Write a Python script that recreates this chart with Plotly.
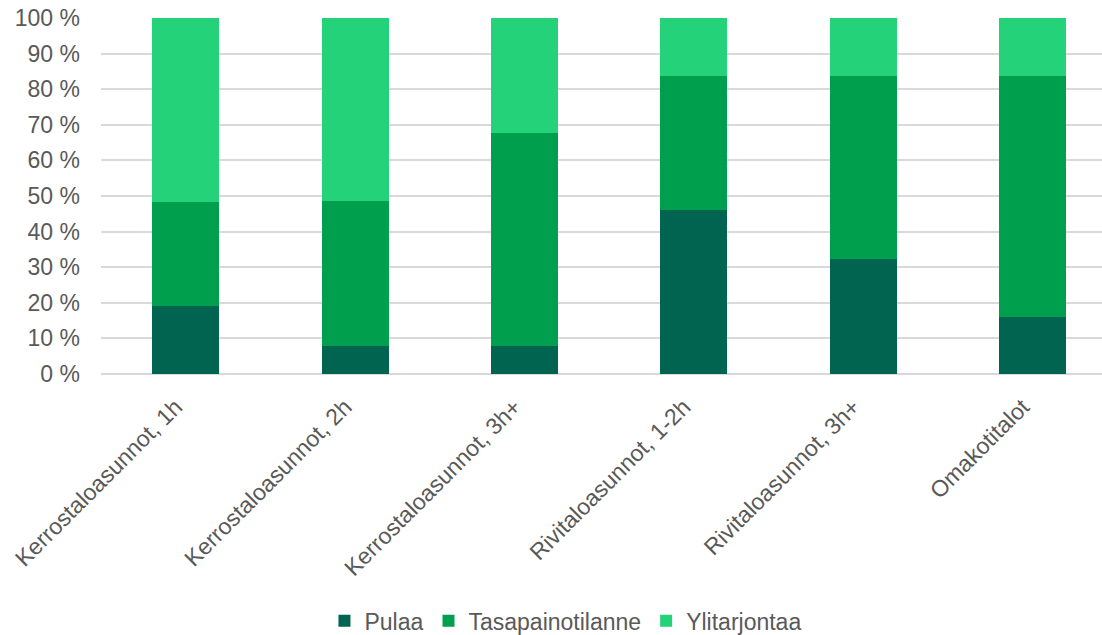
import plotly.graph_objects as go

categories = ["Kerrostaloasunnot, 1h", "Kerrostaloasunnot, 2h", "Kerrostaloasunnot, 3h+",
              "Rivitaloasunnot, 1-2h", "Rivitaloasunnot, 3h+", "Omakotitalot"]
pulaa = [19.0, 8.0, 8.0, 46.0, 32.2, 16.0]
tasapaino = [29.4, 40.5, 59.6, 37.7, 51.5, 67.7]
ylitarjonta = [51.6, 51.5, 32.4, 16.3, 16.3, 16.3]
y_ticks = [0, 10, 20, 30, 40, 50, 60, 70, 80, 90, 100]

colors = ["#006450", "#009F4D", "#23D279"]
names = ["Pulaa", "Tasapainotilanne", "Ylitarjontaa"]
series = [pulaa, tasapaino, ylitarjonta]

fig = go.Figure()
for name, vals, c in zip(names, series, colors):
    fig.add_trace(go.Bar(x=list(range(len(categories))), y=vals, name=name,
                         marker=dict(color=c, line=dict(width=0)), width=0.396))

font = "Liberation Sans, Arial, sans-serif"
fs = 23
fig.update_layout(
    barmode="stack",
    width=1102, height=635,
    margin=dict(l=101, r=0, t=17.5, b=260.5, autoexpand=False),
    paper_bgcolor="white", plot_bgcolor="white",
    font=dict(family=font, size=fs, color="#595959"),
    showlegend=True,
    legend=dict(orientation="h", x=0.464, xanchor="center", y=-0.693, yanchor="middle",
                font=dict(size=fs, color="#595959"), itemwidth=30, traceorder="normal",
                itemclick=False),
    xaxis=dict(range=[-0.5, 5.41], tickmode="array", tickvals=list(range(len(categories))),
               ticktext=categories, tickangle=-45, showgrid=False, zeroline=False,
               showline=False, ticks="", ticklabelstandoff=14, ticklabelshift=-10,
               automargin=False, tickfont=dict(size=fs, color="#595959")),
    yaxis=dict(range=[0, 100], tickmode="array", tickvals=y_ticks,
               ticktext=[f"{v} %" for v in y_ticks], showgrid=True, gridcolor="#d9d9d9",
               gridwidth=1.5, zeroline=True, zerolinecolor="#d9d9d9", zerolinewidth=1.5,
               showline=False, ticks="", ticklabelstandoff=20, automargin=False,
               tickfont=dict(size=fs, color="#595959")),
)
fig.write_html("out.html")
